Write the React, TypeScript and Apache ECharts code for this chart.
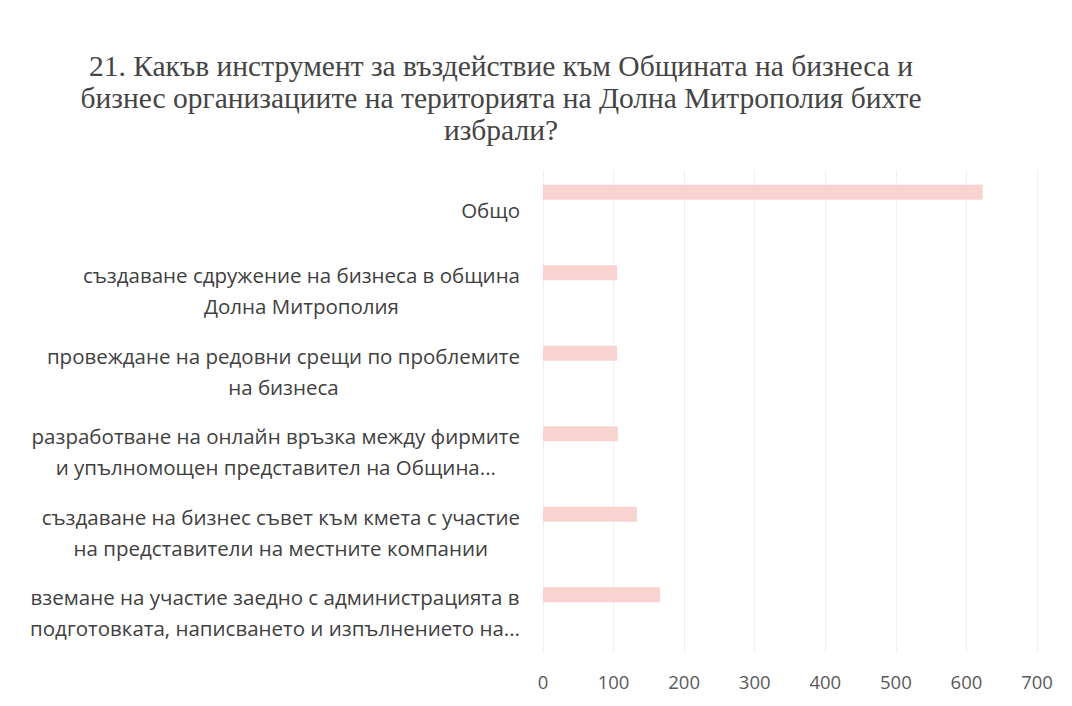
import React, { useEffect, useRef } from "react";
import * as echarts from "echarts";

const titleText =
  "21. Какъв инструмент за въздействие към Общината на бизнеса и\nбизнес организациите на територията на Долна Митрополия бихте\nизбрали?";

const categories = [
  "Общо",
  "създаване сдружение на бизнеса в община\nДолна Митрополия",
  "провеждане на редовни срещи по проблемите\nна бизнеса",
  "разработване на онлайн връзка между фирмите\nи упълномощен представител на Община...",
  "създаване на бизнес съвет към кмета с участие\nна представители на местните компании",
  "вземане на участие заедно с администрацията в\nподготовката, написването и изпълнението на...",
];

const values = [623, 105, 105, 106, 133, 166];

const xTicks = [0, 100, 200, 300, 400, 500, 600, 700];

export default function App() {
  const ref = useRef<HTMLDivElement>(null);
  useEffect(() => {
    if (!ref.current) return;
    const chart = echarts.init(ref.current, null, { renderer: "svg" });
    const labelStyle = {
      fontFamily: "Open Sans",
      fontSize: 20.5,
      lineHeight: 31,
      color: "#404040",
    };
    chart.setOption({
      animation: false,
      backgroundColor: "#ffffff",
      title: {
        text: titleText,
        left: 496,
        textAlign: "center",
        top: 45,
        textStyle: {
          fontFamily: "Liberation Serif",
          fontSize: 29.5,
          fontWeight: "normal",
          color: "#444444",
          lineHeight: 32,
        },
      },
      grid: [
        { left: 543, right: 35, top: 152, bottom: 71, containLabel: false },
        { left: 543, right: 35, top: 170, bottom: 53, containLabel: false },
      ],
      xAxis: [
        {
          type: "value",
          gridIndex: 0,
          min: xTicks[0],
          max: xTicks[xTicks.length - 1],
          interval: 100,
          show: false,
        },
        {
          type: "value",
          gridIndex: 1,
          min: xTicks[0],
          max: xTicks[xTicks.length - 1],
          interval: 100,
          axisLine: { show: false },
          axisTick: { show: false },
          splitLine: { show: true, lineStyle: { color: "#efefef", width: 1 } },
          axisLabel: {
            margin: 19,
            fontFamily: "Open Sans",
            fontSize: 18.5,
            color: "#595959",
          },
        },
      ],
      yAxis: [
        {
          type: "category",
          gridIndex: 0,
          inverse: true,
          data: categories,
          axisLine: { show: false },
          axisTick: { show: false },
          axisLabel: { show: false },
        },
        {
          type: "category",
          gridIndex: 1,
          inverse: true,
          data: categories,
          axisLine: { show: false },
          axisTick: { show: false },
          splitLine: { show: false },
          axisLabel: {
            interval: 0,
            margin: 23,
            align: "right",
            ...labelStyle,
            formatter: (v: string) =>
              v
                .split("\n")
                .map((l) => `{c|${l}}`)
                .join("\n"),
            rich: {
              c: { ...labelStyle, align: "center" },
            },
          },
        },
      ],
      series: [
        {
          type: "bar",
          xAxisIndex: 0,
          yAxisIndex: 0,
          data: values,
          barWidth: 15,
          itemStyle: { color: "#f9d3cf" },
        },
      ],
    });
    return () => chart.dispose();
  }, []);
  return (
    <div
      ref={ref}
      style={{ position: "absolute", left: 0, top: 0, width: 1072, height: 706 }}
    />
  );
}
